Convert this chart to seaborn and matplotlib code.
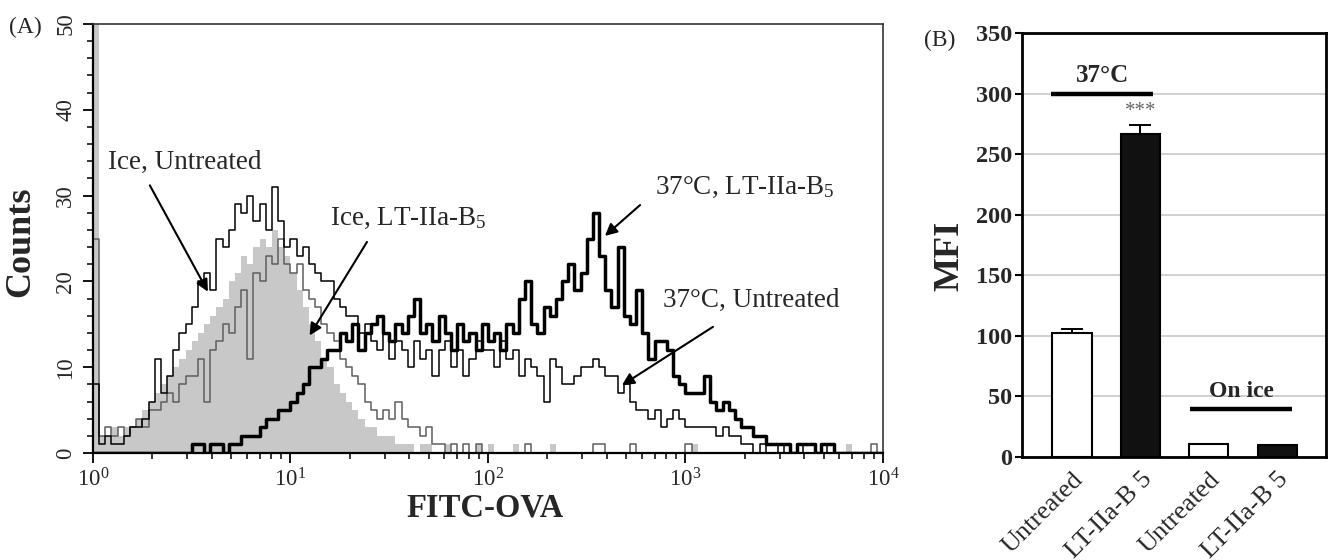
import numpy as np
import pandas as pd
import matplotlib
matplotlib.use("Agg")
import matplotlib.pyplot as plt
import seaborn as sns
from matplotlib.ticker import MultipleLocator, LogLocator, NullFormatter

sns.set_theme(style="white")
plt.rcParams["font.family"] = ["Liberation Serif", "DejaVu Serif"]
plt.rcParams["mathtext.fontset"] = "custom"
plt.rcParams["mathtext.rm"] = "Liberation Serif"
plt.rcParams["mathtext.it"] = "Liberation Serif:italic"
plt.rcParams["mathtext.bf"] = "Liberation Serif:bold"

# ---------------------------------------------------------------
# (A) flow cytometry histograms, 32 channels per decade, 10^0..10^4
# ---------------------------------------------------------------
channels_per_decade = 32
decades = 4

# filled light-grey histogram
counts_fill = [
    60, 2, 2, 3, 2, 3, 3, 4, 5, 6, 7, 8, 9, 10, 11, 12,
    13, 14, 15, 16, 17, 18, 20, 21, 23, 22, 24, 25, 24, 26, 24, 23,
    21, 19, 17, 15, 13, 11, 10, 8, 7, 6, 5, 4, 3, 3, 2, 2,
    2, 1, 1, 1, 0, 1, 1, 0, 0, 1, 0, 0, 0, 0, 1, 0,
    1, 0, 0, 0, 1, 0, 0, 0, 0, 0, 1, 0, 0, 0, 0, 0,
    0, 0, 0, 0, 0, 0, 0, 0, 0, 0, 0, 0, 0, 0, 0, 0,
    0, 1, 0, 0, 0, 0, 0, 0, 0, 0, 0, 0, 0, 0, 0, 0,
    0, 0, 0, 0, 0, 0, 0, 0, 0, 0, 1, 0, 0, 0, 0, 0,
]

# Ice, LT-IIa-B5 (thin grey outline)
counts_ice_lt = [
    25, 2, 3, 2, 3, 2, 3, 4, 3, 5, 5, 6, 7, 6, 8, 9,
    9, 11, 6, 12, 13, 15, 14, 17, 19, 11, 21, 20, 23, 22, 25, 22,
    21, 22, 19, 18, 17, 15, 14, 13, 11, 10, 9, 8, 6, 5, 4, 5,
    4, 6, 4, 3, 3, 2, 3, 1, 1, 0, 1, 0, 1, 0, 1, 0,
    0, 0, 0, 0, 0, 0, 1, 0, 0, 0, 0, 0, 0, 0, 0, 0,
    0, 1, 1, 0, 0, 0, 0, 1, 0, 0, 0, 0, 0, 0, 0, 0,
    1, 0, 0, 0, 0, 0, 0, 0, 0, 0, 0, 0, 0, 0, 0, 0,
    0, 0, 0, 0, 0, 0, 0, 0, 0, 0, 0, 0, 0, 0, 1, 0,
]

# Untreated (thin black outline)
counts_untreated = [
    8, 1, 2, 1, 1, 2, 3, 3, 4, 6, 11, 7, 9, 12, 14, 15,
    17, 20, 21, 19, 25, 24, 26, 29, 28, 30, 27, 29, 26, 31, 27, 24,
    25, 23, 24, 22, 21, 20, 20, 18, 17, 16, 16, 14, 15, 13, 12, 14,
    11, 13, 12, 10, 13, 11, 12, 9, 12, 13, 10, 12, 9, 11, 13, 12,
    12, 10, 13, 11, 12, 9, 11, 10, 9, 6, 11, 10, 8, 8, 9, 10,
    10, 11, 10, 9, 9, 7, 8, 6, 5, 5, 4, 5, 3, 4, 5, 4,
    3, 3, 3, 3, 3, 2, 3, 2, 2, 1, 1, 0, 1, 0, 0, 1,
    0, 0, 1, 0, 0, 0, 1, 0, 0, 0, 0, 0, 0, 0, 0, 0,
]

# 37 °C, LT-IIa-B5 (thick black outline)
counts_37_lt = [
    0, 0, 0, 0, 0, 0, 0, 0, 0, 0, 0, 0, 0, 0, 0, 0,
    1, 1, 0, 1, 1, 0, 1, 1, 2, 2, 2, 3, 4, 4, 5, 5,
    6, 7, 8, 10, 10, 11, 12, 12, 14, 13, 15, 12, 14, 15, 16, 14,
    13, 15, 14, 16, 18, 14, 15, 13, 16, 14, 12, 15, 13, 14, 12, 15,
    13, 14, 12, 15, 14, 18, 20, 15, 14, 17, 16, 18, 20, 22, 19, 21,
    25, 28, 23, 19, 17, 24, 16, 15, 19, 14, 11, 13, 13, 12, 9, 8,
    7, 7, 7, 9, 6, 5, 6, 5, 4, 3, 3, 2, 2, 1, 1, 1,
    1, 0, 1, 1, 1, 0, 1, 1, 0, 0, 0, 0, 0, 0, 0, 0,
]

# ---------------------------------------------------------------
# (B) mean fluorescence intensity
# ---------------------------------------------------------------
bar_keys = ["37C_untreated", "37C_lt", "ice_untreated", "ice_lt"]
bar_labels = ["Untreated", "LT-IIa-B 5", "Untreated", "LT-IIa-B 5"]
mfi_values = [102, 267, 11, 10]
mfi_errors = [3.5, 7, 0, 0]
bar_colors = ["white", "#111111", "white", "#111111"]

# ---------------------------------------------------------------
n_bins = channels_per_decade * decades
edges = np.logspace(0, decades, n_bins + 1)
centers = np.sqrt(edges[:-1] * edges[1:])
bin_edges = [float(e) for e in edges]

hist_df = pd.DataFrame({
    "fluor": centers,
    "fill": np.asarray(counts_fill, dtype=float),
    "ice_lt": np.asarray(counts_ice_lt, dtype=float),
    "untreated": np.asarray(counts_untreated, dtype=float),
    "lt37": np.asarray(counts_37_lt, dtype=float),
})

fig = plt.figure(figsize=(13.28, 5.6), dpi=100)
axA = fig.add_axes([0.0700, 0.1911, 0.5949, 0.7660])
axB = fig.add_axes([0.7696, 0.1839, 0.2289, 0.7572])

sns.histplot(data=hist_df, x="fluor", weights="fill", bins=bin_edges, element="step",
             fill=True, color="#c8c8c8", alpha=1.0, linewidth=0, ax=axA)
sns.histplot(data=hist_df, x="fluor", weights="ice_lt", bins=bin_edges, element="step",
             fill=False, color="#5e5e5e", linewidth=1.1, ax=axA)
sns.histplot(data=hist_df, x="fluor", weights="untreated", bins=bin_edges, element="step",
             fill=False, color="black", linewidth=1.1, ax=axA)
sns.histplot(data=hist_df, x="fluor", weights="lt37", bins=bin_edges, element="step",
             fill=False, color="black", linewidth=2.5, ax=axA)

axA.set_xscale("log")
axA.set_xlim(1, 1e4)
axA.set_ylim(0, 50)
axA.set_xlabel("")
axA.set_ylabel("")
axA.xaxis.set_major_locator(LogLocator(base=10, numticks=10))
axA.xaxis.set_minor_locator(LogLocator(base=10, subs=np.arange(2, 10), numticks=50))
axA.xaxis.set_minor_formatter(NullFormatter())
axA.yaxis.set_major_locator(MultipleLocator(10))
axA.yaxis.set_minor_locator(MultipleLocator(2))
axA.tick_params(axis="both", which="major", direction="out", length=7, width=1.3,
                color="black", labelsize=16.5, bottom=True, left=True, top=False, right=False)
axA.tick_params(axis="both", which="minor", direction="out", length=4, width=1.1,
                color="black", bottom=True, left=True, top=False, right=False)
axA.tick_params(axis="x", which="major", pad=4)
axA.tick_params(axis="y", which="major", pad=5)
for lab in axA.get_yticklabels():
    lab.set_rotation(90)
    lab.set_va("center")
for side in ["left", "bottom"]:
    axA.spines[side].set_color("black")
    axA.spines[side].set_linewidth(1.6)
for side in ["top", "right"]:
    axA.spines[side].set_color("#333333")
    axA.spines[side].set_linewidth(1.2)

arrow_kw = dict(arrowstyle="-|>", color="black", lw=1.5, mutation_scale=18,
                shrinkA=0, shrinkB=0)
label_size = 19.5
axA.text(1.19, 33.9, "Ice, Untreated", fontsize=label_size, ha="left", va="center")
axA.annotate("", xy=(3.82, 18.8), xytext=(1.94, 31.2), arrowprops=arrow_kw)
axA.text(15.9, 27.4, "Ice, LT-IIa-B$_5$", fontsize=label_size, ha="left", va="center")
axA.annotate("", xy=(12.5, 13.7), xytext=(24.4, 24.6), arrowprops=arrow_kw)
axA.text(700, 30.9, "37°C, LT-IIa-B$_5$", fontsize=label_size, ha="left", va="center")
axA.annotate("", xy=(391, 25.3), xytext=(589, 28.9), arrowprops=arrow_kw)
axA.text(770, 17.8, "37°C, Untreated", fontsize=label_size, ha="left", va="center")
axA.annotate("", xy=(477, 7.9), xytext=(1377, 14.7), arrowprops=arrow_kw)

fig.text(25 / 1328, 1 - 27 / 560, "(A)", fontsize=17, ha="center", va="center")
fig.text(21 / 1328, 1 - 242 / 560, "Counts", fontsize=26, fontweight="bold",
         rotation=90, ha="center", va="center")
fig.text(485 / 1328, 1 - 508 / 560, "FITC-OVA", fontsize=23.5, fontweight="bold",
         ha="center", va="center")

# ---------------------------------------------------------------
df = pd.DataFrame({"cond": bar_keys, "mfi": mfi_values})
sns.barplot(data=df, x="cond", y="mfi", hue="cond", palette=bar_colors,
            order=bar_keys, hue_order=bar_keys, edgecolor="black", linewidth=1.5,
            width=0.57, legend=False, ax=axB)
axB.errorbar(np.arange(len(bar_keys)), mfi_values,
             yerr=[np.zeros(len(mfi_errors)), mfi_errors], fmt="none",
             ecolor="black", elinewidth=1.4, capsize=8, capthick=1.4, zorder=5)
axB.set_xlim(-0.73, 3.71)
axB.set_ylim(0, 350)
axB.yaxis.set_major_locator(MultipleLocator(50))
axB.set_axisbelow(True)
axB.yaxis.grid(True, color="#c4c4c4", linewidth=1.1)
axB.xaxis.grid(False)
axB.set_xlabel("")
axB.set_ylabel("")
axB.set_xticks(np.arange(len(bar_keys)))
axB.set_xticklabels(bar_labels, rotation=45, ha="right", rotation_mode="anchor",
                    fontsize=19)
axB.tick_params(axis="x", length=0, pad=8)
axB.tick_params(axis="y", direction="out", length=5, width=1.5, color="black",
                left=True, labelsize=17.5, pad=2)
for lab in axB.get_yticklabels():
    lab.set_fontweight("bold")
for side in axB.spines:
    axB.spines[side].set_color("black")
    axB.spines[side].set_linewidth(2.0)

axB.plot([-0.31, 1.19], [300, 300], color="black", lw=3.2, solid_capstyle="butt")
axB.text(0.45, 315, "37°C", fontsize=18, fontweight="bold", ha="center", va="center")
axB.text(1.0, 285, "***", fontsize=15, color="#666666", ha="center", va="center")
axB.plot([1.72, 3.22], [40, 40], color="black", lw=3.2, solid_capstyle="butt")
axB.text(2.48, 54, "On ice", fontsize=17, fontweight="bold", ha="center", va="center")

fig.text(940 / 1328, 1 - 40 / 560, "(B)", fontsize=17, ha="center", va="center")
fig.text(950 / 1328, 1 - 256 / 560, "MFI", fontsize=26, fontweight="bold",
         rotation=90, ha="center", va="center")

fig.savefig("out.png", dpi=100)
